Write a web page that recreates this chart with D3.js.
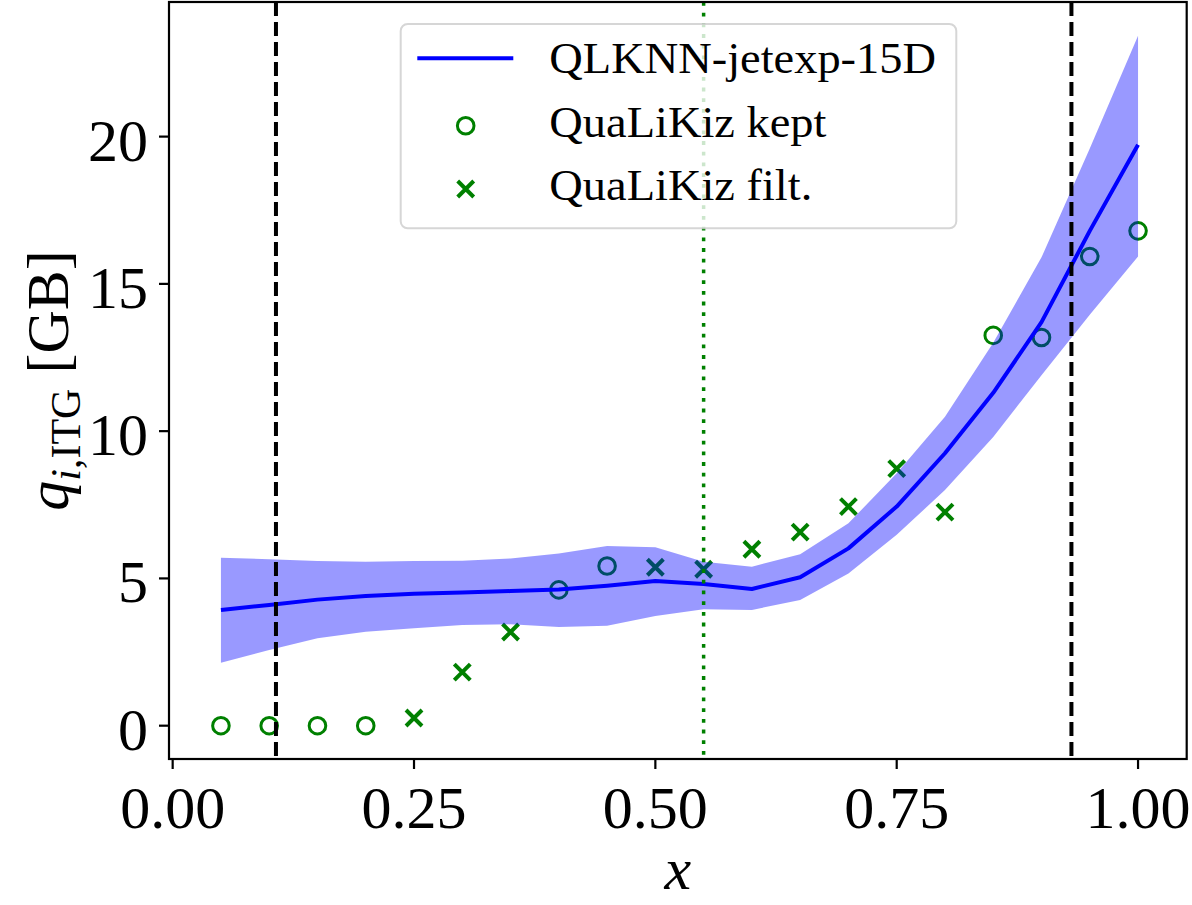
<!DOCTYPE html>
<html>
<head>
<meta charset="utf-8">
<script src="https://cdn.jsdelivr.net/npm/d3@7"></script>
<style>
  html, body { margin: 0; padding: 0; background: #fff; }
  svg { display: block; }
  text { font-family: "Liberation Serif", "DejaVu Serif", serif; fill: #000; }
</style>
</head>
<body>
<svg id="chart" width="1192" height="905"></svg>
<script>
// ---- data ----
const xGrid = [0.05,0.10,0.15,0.20,0.25,0.30,0.35,0.40,0.45,0.50,0.55,0.60,0.65,0.70,0.75,0.80,0.85,0.90,0.95,1.00];
const nnMean  = [3.93,4.10,4.28,4.40,4.48,4.52,4.57,4.62,4.75,4.91,4.81,4.64,5.04,6.02,7.44,9.25,11.30,13.70,16.80,19.72];
const nnUpper = [5.70,5.65,5.59,5.57,5.59,5.60,5.68,5.85,6.10,6.06,5.57,5.40,5.82,6.87,8.57,10.49,13.00,15.90,19.60,23.42];
const nnLower = [2.14,2.57,2.97,3.19,3.31,3.42,3.44,3.35,3.39,3.72,3.95,3.93,4.27,5.17,6.48,8.00,9.80,11.90,13.95,15.93];
const keptX = [0.05,0.10,0.15,0.20,0.40,0.45,0.85,0.90,0.95,1.00];
const keptY = [0,0,0,0,4.61,5.42,13.25,13.18,15.93,16.80];
const filtX = [0.25,0.30,0.35,0.50,0.55,0.60,0.65,0.70,0.75,0.80];
const filtY = [0.26,1.82,3.18,5.38,5.31,5.99,6.57,7.44,8.73,7.25];
const dashedX = [0.107, 0.931];
const dottedX = [0.55];
const xTicks = [0, 0.25, 0.5, 0.75, 1.0];
const xTickLabels = ["0.00","0.25","0.50","0.75","1.00"];
const yTicks = [0, 5, 10, 15, 20];
const yTickLabels = ["0","5","10","15","20"];
const legendLabels = ["QLKNN-jetexp-15D", "QuaLiKiz kept", "QuaLiKiz filt."];

// ---- layout ----
const L = 169, R = 1186.7, T = 2, B = 759;
const svg = d3.select("#chart");
const x = d3.scaleLinear().domain([-0.0038, 1.0504]).range([L, R]);
const y = d3.scaleLinear().domain([-1.131, 24.57]).range([B, T]);

const blue = "#0000ff", green = "#008000";

svg.append("defs").append("clipPath").attr("id","clip")
  .append("rect").attr("x",L).attr("y",T).attr("width",R-L).attr("height",B-T);

const plot = svg.append("g").attr("clip-path","url(#clip)");

// markers (drawn under the band)
const crossPath = "M-8,-8L8,8M-8,8L8,-8";
const circR = 8.3, circW = 3, crossW = 4;
plot.append("g").selectAll("circle").data(keptX.map((d,i)=>[d,keptY[i]])).join("circle")
  .attr("cx", d=>x(d[0])).attr("cy", d=>y(d[1])).attr("r", circR)
  .attr("fill","none").attr("stroke",green).attr("stroke-width",circW);
plot.append("g").selectAll("path").data(filtX.map((d,i)=>[d,filtY[i]])).join("path")
  .attr("transform", d=>`translate(${x(d[0])},${y(d[1])})`).attr("d", crossPath)
  .attr("fill","none").attr("stroke",green).attr("stroke-width",crossW);

// band
const band = xGrid.map((d,i)=>({x:d, lo:nnLower[i], hi:nnUpper[i], m:nnMean[i]}));
plot.append("path").datum(band)
  .attr("d", d3.area().x(d=>x(d.x)).y0(d=>y(d.lo)).y1(d=>y(d.hi)))
  .attr("fill", blue).attr("fill-opacity", 0.4).attr("stroke","none");

// mean line
plot.append("path").datum(band)
  .attr("d", d3.line().x(d=>x(d.x)).y(d=>y(d.m)))
  .attr("fill","none").attr("stroke",blue).attr("stroke-width",4).attr("stroke-linejoin","round");

// vertical lines
plot.append("g").selectAll("line").data(dashedX).join("line")
  .attr("x1",d=>x(d)).attr("x2",d=>x(d)).attr("y1",T).attr("y2",B)
  .attr("stroke","#000").attr("stroke-width",4).attr("stroke-dasharray","14,6");
plot.append("g").selectAll("line").data(dottedX).join("line")
  .attr("x1",d=>x(d)).attr("x2",d=>x(d)).attr("y1",T).attr("y2",B)
  .attr("stroke",green).attr("stroke-width",3.5).attr("stroke-dasharray","3.8,6.9");

// spines
svg.append("rect").attr("x",L).attr("y",T).attr("width",R-L).attr("height",B-T)
  .attr("fill","none").attr("stroke","#000").attr("stroke-width",2.2);

// ticks
const fs = 60;
const xt = svg.append("g");
xTicks.forEach((t,i)=>{
  xt.append("line").attr("x1",x(t)).attr("x2",x(t)).attr("y1",B).attr("y2",B+10)
    .attr("stroke","#000").attr("stroke-width",2.2);
  xt.append("text").attr("x",x(t)).attr("y",828).attr("text-anchor","middle")
    .attr("font-size",fs).text(xTickLabels[i]);
});
const yt = svg.append("g");
yTicks.forEach((t,i)=>{
  yt.append("line").attr("x1",L-10).attr("x2",L).attr("y1",y(t)).attr("y2",y(t))
    .attr("stroke","#000").attr("stroke-width",2.2);
  yt.append("text").attr("x",148).attr("y",y(t)+24).attr("text-anchor","end")
    .attr("font-size",fs).text(yTickLabels[i]);
});

// axis labels
svg.append("text").attr("x",(L+R)/2).attr("y",889).attr("text-anchor","middle")
  .attr("font-size",fs).attr("font-style","italic").text("x");
const yl = svg.append("text").attr("transform",`translate(68,${(T+B)/2}) rotate(-90)`)
  .attr("text-anchor","middle").attr("font-size",fs);
yl.append("tspan").attr("font-style","italic").text("q");
yl.append("tspan").attr("font-size",42).attr("dy",12).attr("font-style","italic").text("i");
yl.append("tspan").attr("font-size",42).text(",ITG");
yl.append("tspan").attr("dy",-12).text("\u00a0[GB]");

// legend
const lg = svg.append("g");
lg.append("rect").attr("x",400.7).attr("y",24).attr("width",555.6).attr("height",204.3)
  .attr("rx",7).attr("ry",7).attr("fill","#fff").attr("fill-opacity",0.8)
  .attr("stroke","#cccccc").attr("stroke-opacity",0.8).attr("stroke-width",2);
const rowBase = [73.3, 136.7, 200.2];
lg.append("line").attr("x1",417.3).attr("x2",513.3).attr("y1",58.3).attr("y2",58.3)
  .attr("stroke",blue).attr("stroke-width",4);
lg.append("circle").attr("cx",465.7).attr("cy",125.7).attr("r",circR)
  .attr("fill","none").attr("stroke",green).attr("stroke-width",circW);
lg.append("path").attr("transform","translate(465.7,189)").attr("d",crossPath)
  .attr("fill","none").attr("stroke",green).attr("stroke-width",crossW);
legendLabels.forEach((s,i)=>{
  const t = lg.append("text").attr("x",549.3).attr("y",rowBase[i]).attr("font-size",44).text(s);
  const w = t.node().getComputedTextLength();
  t.attr("textLength", w*1.055).attr("lengthAdjust","spacingAndGlyphs");
});
</script>
</body>
</html>
